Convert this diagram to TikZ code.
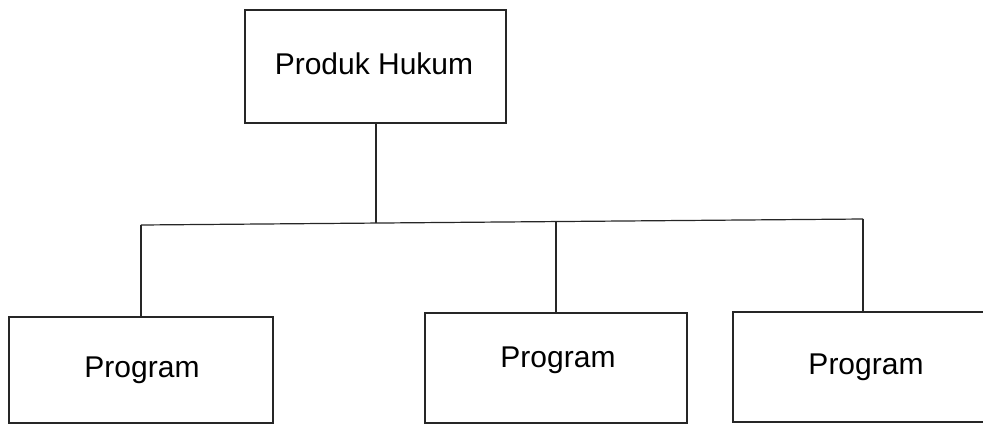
\documentclass[tikz,border=0pt]{standalone}
\usepackage{fontspec}
\setmainfont{Liberation Sans}
\begin{document}
\begin{tikzpicture}[x=1pt,y=-1pt,
  box/.style={draw=black!85, line width=1.3pt, rectangle, inner sep=0pt, font=\fontsize{30}{34}\selectfont},
  conn/.style={draw=black!85, line width=1.2pt},
  lbl/.style={inner sep=0pt, font=\fontsize{30}{34}\selectfont}]
\useasboundingbox (0,0) rectangle (983,424);
\clip (0,0) rectangle (983,424);
\node[box, minimum width=261pt, minimum height=113pt] (top) at (375.5,66.5) {};
\node[lbl] (toptxt) at (374,64) {Produk Hukum};
\node[box, minimum width=264pt, minimum height=106pt] (left) at (141,370) {};
\node[lbl] (lefttxt) at (142,370) {Program};
\node[box, minimum width=262pt, minimum height=110pt] (mid) at (556,368) {};
\node[lbl] (midtxt) at (558,360) {Program};
\node[box, minimum width=267pt, minimum height=110pt] (right) at (866.5,367) {};
\node[lbl] (righttxt) at (866,367) {Program};
\coordinate (j1) at (141,225);
\coordinate (j0) at (376,223);
\coordinate (j2) at (556,221.5);
\coordinate (j3) at (863,219);
\draw[conn] (top.south -| j0) -- (j0);
\draw[conn] (j1) -- (j3);
\draw[conn] (j1) -- (left.north);
\draw[conn] (j2) -- (mid.north);
\draw[conn] (j3) -- (j3 |- right.north);
\end{tikzpicture}
\end{document}
